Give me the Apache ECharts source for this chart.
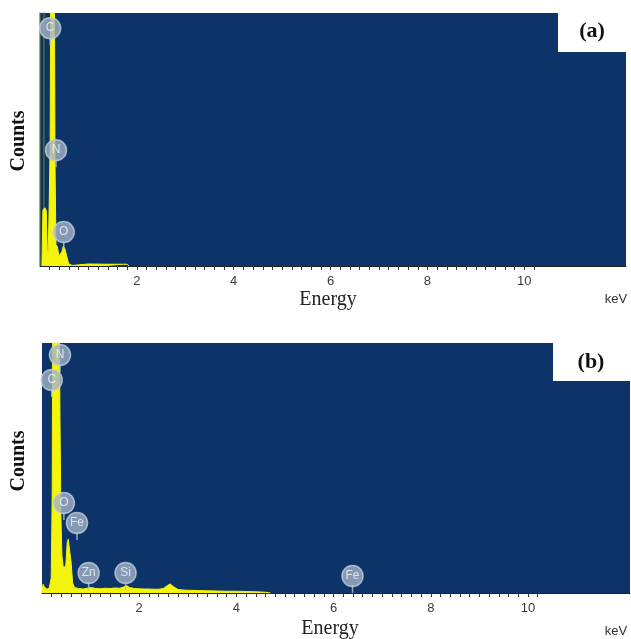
<!DOCTYPE html>
<html>
<head>
<meta charset="utf-8">
<script src="https://cdn.jsdelivr.net/npm/echarts@6/dist/echarts.min.js"></script>
<style>
html,body{margin:0;padding:0;background:#fff;}
#chart{width:631px;height:639px;}
</style>
</head>
<body>
<div id="chart"></div>
<script>
// ---- Data (energy in keV, counts in relative units 0-1000) ----
var energyA = [0.04, 0.06, 0.10, 0.13, 0.15, 0.17, 0.19, 0.21, 0.22, 0.30, 0.31, 0.33, 0.36, 0.39, 0.41, 0.45, 0.48, 0.51, 0.55, 0.59, 0.62, 0.66, 0.70, 1.00, 1.40, 1.80, 1.84];
var countsA = [0, 220, 230, 220, 60, 50, 240, 500, 1000, 1000, 400, 85, 75, 40, 35, 55, 78, 70, 40, 10, 4, 2, 7, 8, 7, 7, 0];

var noiseEnergyA = [0.0, 0.0, 0.08, 0.08];
var noiseCountsA = [0, 1100, 1100, 0];

var energyB = [0, 0.02, 0.05, 0.10, 0.15, 0.19, 0.21, 0.22, 0.36, 0.37, 0.39, 0.41, 0.44, 0.49, 0.52, 0.54, 0.58, 0.60, 0.63, 0.67, 0.75, 0.85, 0.95, 1.02, 1.10, 1.20, 1.30, 1.40, 1.50, 1.60, 1.68, 1.74, 1.80, 1.90, 2.00, 2.10, 2.20, 2.30, 2.40, 2.50, 2.58, 2.64, 2.70, 2.80, 2.90, 3.00, 3.20, 3.40, 3.60, 3.80, 4.00, 4.20, 4.40, 4.60, 4.70];
var countsB = [0, 35, 25, 15, 20, 60, 400, 1000, 1000, 700, 300, 150, 100, 110, 205, 215, 210, 120, 40, 22, 18, 16, 20, 22, 18, 17, 19, 18, 20, 19, 24, 30, 22, 18, 17, 16, 16, 15, 15, 18, 30, 36, 26, 14, 12, 11, 10, 9, 8, 7, 7, 6, 5, 3, 0];

var badgeNamesA = ['C', 'N', 'O'];
var badgeEnergyA = [0.21, 0.33, 0.49];
var badgeCountsA = [940, 458, 134];

var badgeNamesB = ['N', 'C', 'O', 'Fe', 'Zn', 'Si', 'Fe'];
var badgeEnergyB = [0.37, 0.20, 0.45, 0.72, 0.96, 1.72, 6.39];
var badgeCountsB = [952, 852, 360, 280, 80, 80, 68];

var tickLabels = [2, 4, 6, 8, 10];
var minorTickStep = 0.2;
var minorTickEnd = 10.2;

// ---- Build helpers ----
function pairs(xs, ys) { return xs.map(function (x, i) { return [x, ys[i]]; }); }
function badges(xs, ys, names) { return xs.map(function (x, i) { return { value: [x, ys[i]], name: names[i] }; }); }
var tickValues = [];
for (var t = minorTickStep; t <= minorTickEnd + 1e-9; t += minorTickStep) tickValues.push(Math.round(t * 10) / 10);

var BLUE = '#0c3468';
var YELLOW = '#f4f40c';
var SERIF = '"Liberation Serif", "Times New Roman", serif';
var SANS = '"Liberation Sans", Arial, sans-serif';

function xAxisDef(gi) {
  return {
    type: 'value', gridIndex: gi, min: 0, max: 12.1,
    splitLine: { show: false },
    axisLine: { show: true, onZero: false, lineStyle: { color: '#222', width: 1 } },
    axisTick: { show: true, customValues: tickValues, length: 4, lineStyle: { color: '#333', width: 1 } },
    axisLabel: { show: true, customValues: tickLabels, margin: 9, fontSize: 13, color: '#3a3a3a', fontFamily: 'Liberation Sans, Arial, sans-serif' }
  };
}
function yAxisDef(gi) {
  return { type: 'value', gridIndex: gi, min: 0, max: 1000, show: false, splitLine: { show: false } };
}
function spectrum(gi, data) {
  return {
    type: 'line', xAxisIndex: gi, yAxisIndex: gi, data: data, symbol: 'none', clip: true,
    lineStyle: { color: YELLOW, width: 1 }, areaStyle: { color: YELLOW, opacity: 1 }, z: 3, silent: true
  };
}
function stems(gi, data) {
  return {
    type: 'scatter', xAxisIndex: gi, yAxisIndex: gi, data: data, symbol: 'rect',
    symbolSize: [1.5, 8], symbolOffset: [0, 13], itemStyle: { color: '#b9c5d6' }, z: 5, silent: true
  };
}
function badgeSeries(gi, data) {
  return {
    type: 'scatter', xAxisIndex: gi, yAxisIndex: gi, data: data, symbol: 'circle', symbolSize: 21,
    itemStyle: { color: '#a4b3c8', borderColor: '#c3cedc', borderWidth: 1.5 },
    label: { show: true, position: 'inside', formatter: function (p) { return p.name; }, color: '#f3f6fa', fontSize: 12, fontFamily: 'Liberation Sans, Arial, sans-serif' },
    z: 6, silent: true
  };
}

var chart = echarts.init(document.getElementById('chart'), null, { renderer: 'canvas' });
chart.setOption({
  animation: false,
  backgroundColor: '#ffffff',
  grid: [
    { left: 40, top: 13, width: 586, height: 253, show: true, backgroundColor: BLUE, borderWidth: 0 },
    { left: 42, top: 343, width: 588, height: 250, show: true, backgroundColor: BLUE, borderWidth: 0 }
  ],
  xAxis: [xAxisDef(0), xAxisDef(1)],
  yAxis: [yAxisDef(0), yAxisDef(1)],
  series: [
    {
      type: 'line', xAxisIndex: 0, yAxisIndex: 0, data: pairs(noiseEnergyA, noiseCountsA), symbol: 'none', clip: true,
      lineStyle: { color: '#5f7a2c', width: 1.2 }, z: 2, silent: true
    },
    spectrum(0, pairs(energyA, countsA)),
    stems(0, badges(badgeEnergyA, badgeCountsA, badgeNamesA)),
    badgeSeries(0, badges(badgeEnergyA, badgeCountsA, badgeNamesA)),
    spectrum(1, pairs(energyB, countsB)),
    stems(1, badges(badgeEnergyB, badgeCountsB, badgeNamesB)),
    badgeSeries(1, badges(badgeEnergyB, badgeCountsB, badgeNamesB))
  ],
  graphic: [
    { type: 'rect', shape: { x: 558, y: 13, width: 73, height: 39 }, style: { fill: '#ffffff' }, z: 10 },
    { type: 'text', x: 592, y: 31, z: 11, style: { text: '(a)', font: 'bold 22px ' + SERIF, fill: '#111', textAlign: 'center', textVerticalAlign: 'middle' } },
    { type: 'rect', shape: { x: 553, y: 343, width: 78, height: 38 }, style: { fill: '#ffffff' }, z: 10 },
    { type: 'text', x: 591, y: 362, z: 11, style: { text: '(b)', font: 'bold 22px ' + SERIF, fill: '#111', textAlign: 'center', textVerticalAlign: 'middle' } },
    { type: 'text', x: 19, y: 141, rotation: Math.PI / 2, z: 11, style: { text: 'Counts', font: 'bold 20px ' + SERIF, fill: '#111', textAlign: 'center', textVerticalAlign: 'middle' } },
    { type: 'text', x: 19, y: 461, rotation: Math.PI / 2, z: 11, style: { text: 'Counts', font: 'bold 20px ' + SERIF, fill: '#111', textAlign: 'center', textVerticalAlign: 'middle' } },
    { type: 'text', x: 328, y: 300, z: 11, style: { text: 'Energy', font: '20px ' + SERIF, fill: '#222', textAlign: 'center', textVerticalAlign: 'middle' } },
    { type: 'text', x: 330, y: 629, z: 11, style: { text: 'Energy', font: '20px ' + SERIF, fill: '#222', textAlign: 'center', textVerticalAlign: 'middle' } },
    { type: 'text', x: 616, y: 299, z: 11, style: { text: 'keV', font: '13px ' + SANS, fill: '#333', textAlign: 'center', textVerticalAlign: 'middle' } },
    { type: 'text', x: 616, y: 631, z: 11, style: { text: 'keV', font: '13px ' + SANS, fill: '#333', textAlign: 'center', textVerticalAlign: 'middle' } }
  ]
});
</script>
</body>
</html>
